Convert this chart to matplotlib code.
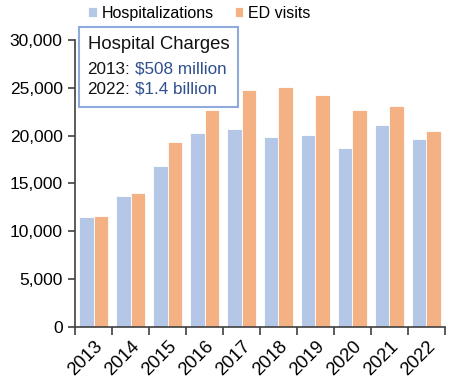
import numpy as np
import matplotlib
matplotlib.use('Agg')
import matplotlib.pyplot as plt
from matplotlib.ticker import FuncFormatter, FixedLocator

plt.rcParams['font.family'] = ['Liberation Sans', 'DejaVu Sans']

years = ['2013', '2014', '2015', '2016', '2017', '2018', '2019', '2020', '2021', '2022']
hospitalizations = [11500, 13700, 16800, 20250, 20650, 19900, 20050, 18700, 21100, 19600]
ed_visits = [11600, 14050, 19300, 22700, 24750, 25050, 24200, 22650, 23100, 20450]

blue = '#B4C7E7'
orange = '#F4B183'
axis_col = '#404040'

fig = plt.figure(figsize=(4.61, 3.85), dpi=100)
ax = fig.add_axes([0.163, 0.151, 0.802, 0.745])

x = np.arange(len(years))
w = 0.39
ax.bar(x - w / 2, hospitalizations, w, color=blue, label='Hospitalizations',
       edgecolor='white', linewidth=0.6)
ax.bar(x + w / 2, ed_visits, w, color=orange, label='ED visits',
       edgecolor='white', linewidth=0.6)

ax.set_xlim(-0.5, len(years) - 0.5)
ax.set_ylim(0, 30000)
ax.set_yticks(np.arange(0, 30001, 5000))
ax.yaxis.set_major_formatter(FuncFormatter(lambda v, p: '{:,.0f}'.format(v)))

# year labels at centres, tick marks at group boundaries
ax.set_xticks(x)
ax.set_xticklabels(years, rotation=45, ha='right', rotation_mode='anchor')
ax.tick_params(axis='x', which='major', length=0, pad=8, labelsize=13.3)
ax.xaxis.set_minor_locator(FixedLocator(np.arange(-0.5, len(years), 1)))
ax.tick_params(axis='x', which='minor', length=6, width=1.2, color=axis_col, direction='out')
ax.tick_params(axis='y', length=5, width=1.2, color=axis_col, labelsize=12.5, pad=4)

for s in ['top', 'right']:
    ax.spines[s].set_visible(False)
for s in ['left', 'bottom']:
    ax.spines[s].set_color(axis_col)
    ax.spines[s].set_linewidth(1.2)

leg = ax.legend(loc='center left', bbox_to_anchor=(0.035, 1.094), ncol=2, frameon=False,
                fontsize=11.5, handlelength=0.55, handleheight=0.55, handletextpad=0.3,
                columnspacing=1.3, borderaxespad=0, borderpad=0)

# annotation box
box = plt.Rectangle((0.011, 0.767), 0.43, 0.278, transform=ax.transAxes, fill=True,
                    facecolor='white', edgecolor='#8FAADC', linewidth=1.5, clip_on=False)
ax.add_patch(box)
ax.text(0.035, 0.983, 'Hospital Charges', transform=ax.transAxes, fontsize=13.3,
        va='center', color='#111111')
t1 = ax.text(0.032, 0.899, '2013:', transform=ax.transAxes, fontsize=12.3, va='center', color='#111111')
t2 = ax.text(0.032, 0.829, '2022:', transform=ax.transAxes, fontsize=12.3, va='center', color='#111111')
ax.annotate(r'\$508 million', xy=(1, 0.5), xycoords=t1, xytext=(3.5, 0), textcoords='offset points',
            fontsize=12.3, va='center', color='#2F4F8F')
ax.annotate(r'\$1.4 billion', xy=(1, 0.5), xycoords=t2, xytext=(3.5, 0), textcoords='offset points',
            fontsize=12.3, va='center', color='#2F4F8F')

fig.savefig('out.png', dpi=100)
